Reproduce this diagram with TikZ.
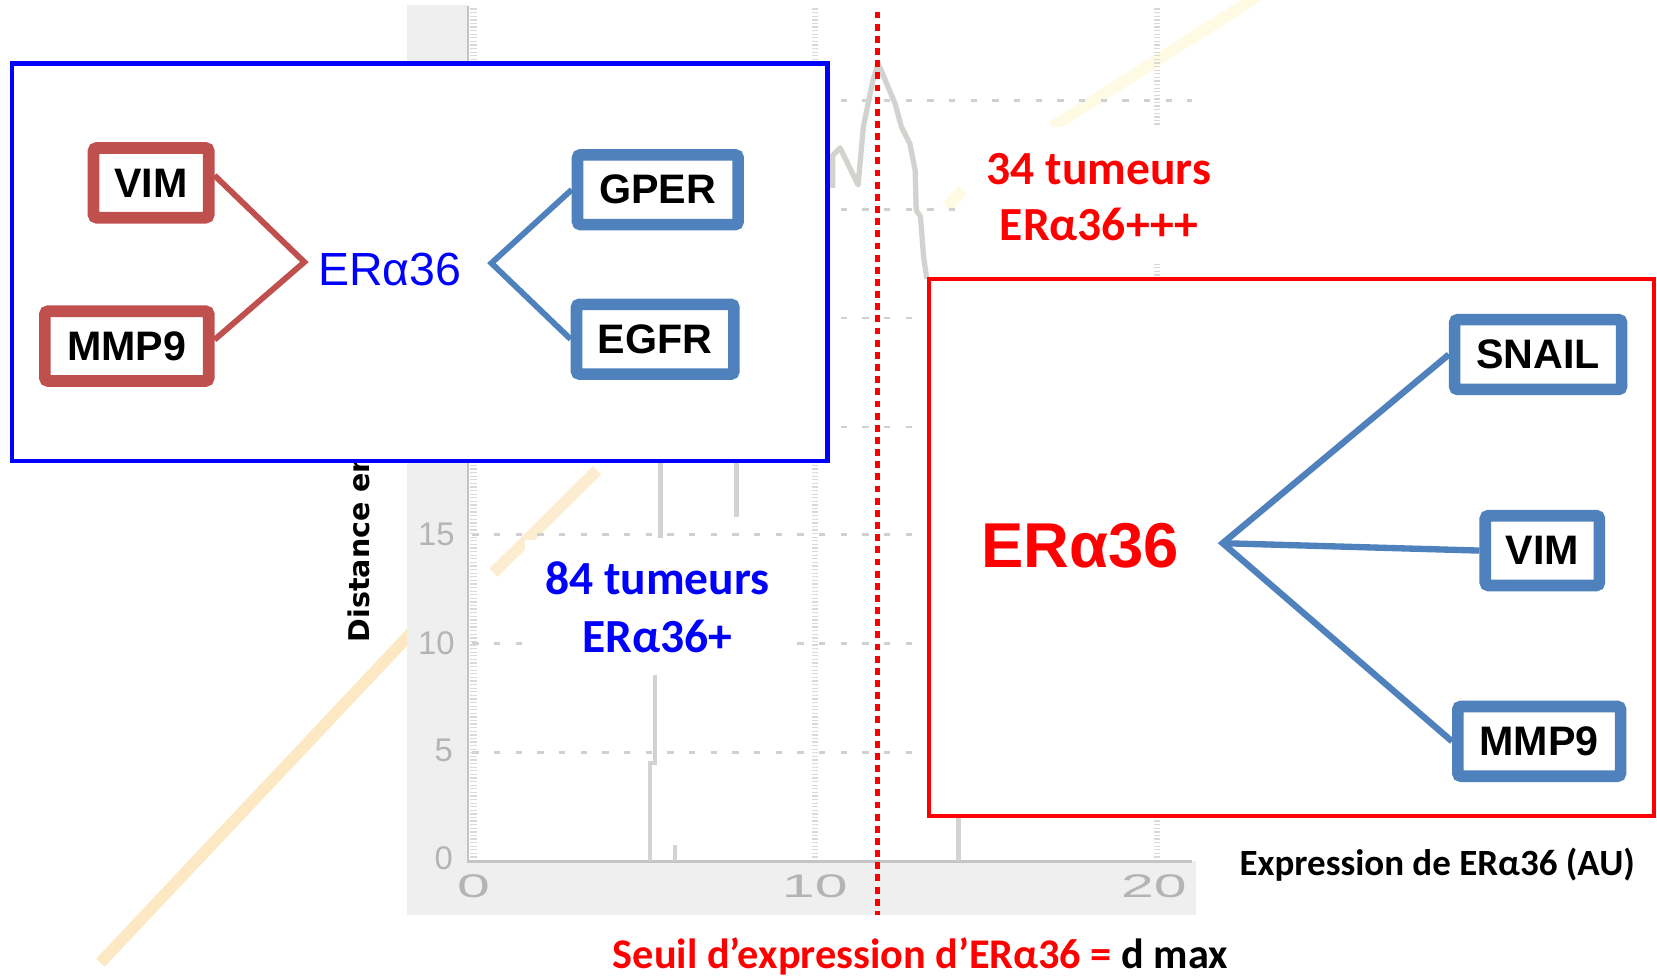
\documentclass[tikz,border=0pt]{standalone}
\usepackage{fontspec}
\setmainfont{Liberation Sans}
\newfontfamily\calfont{Carlito}
\newfontfamily\dejafont{DejaVu Sans}
\usepackage{graphicx}
\usetikzlibrary{calc}
\definecolor{boxred}{HTML}{C0504D}
\definecolor{boxblue}{HTML}{4F81BD}
\definecolor{pureblue}{HTML}{0000FF}
\definecolor{purered}{HTML}{FF0000}
\definecolor{panelgray}{HTML}{EFEFEF}
\definecolor{gridgray}{HTML}{D0D0D0}
\definecolor{axisgray}{HTML}{C4C4C4}
\definecolor{lblgray}{HTML}{B4B4B4}
\definecolor{bandorange}{HTML}{FDE8C4}
\definecolor{bandcream}{HTML}{FFFAE4}
\definecolor{dendgray}{HTML}{D2D2CE}
\begin{document}
\begin{tikzpicture}[x=1pt,y=-1pt,
  gene/.style={draw, line width=11pt, rounded corners=3pt, fill=white, inner sep=0pt,
    minimum height=66pt, font=\bfseries\fontsize{39}{44}\selectfont, text=black},
  redgene/.style={gene, draw=boxred},
  bluegene/.style={gene, draw=boxblue},
  redlink/.style={draw=boxred, line width=5.5pt},
  bluelink/.style={draw=boxblue, line width=5.5pt},
  calib/.style={font=\calfont\bfseries\fontsize{45}{54}\selectfont, inner sep=0pt, anchor=base},
  hgridline/.style={draw=gridgray, line width=2.5pt, dash pattern=on 6pt off 14.5pt},
  vgridline/.style={draw=gridgray!80, line width=6pt, dash pattern=on 1.2pt off 2.2pt},
  dendline/.style={draw=dendgray, line width=4pt},
  ticklbl/.style={text=lblgray, font=\fontsize{31}{31}\selectfont, inner sep=0pt},
  frame/.style={line width=4pt, fill=white, inner sep=0pt},
  band/.style={line width=11pt},
  ]
\useasboundingbox (0,0) rectangle (1568,924);
\fill[white] (0,0) rectangle (1568,924);

% faint orange curve of the background chart (visible fragments only)
\draw[band, draw=bandorange] (95,911) -- (390,598);
\draw[band, draw=bandorange!80] (467,542) -- (565,445);
\draw[band, draw=bandcream] (896,196) -- (911,180);
\draw[band, draw=bandcream] (996,120) .. controls (1090,60) .. (1194,-6);

% chart panel
\fill[panelgray] (385,5) rectangle (443,866);
\fill[panelgray] (385,815) rectangle (1132,866);
\foreach \yy in {95,198,301,404,506,609,712}
  \draw[hgridline] (447,\yy) -- (1128,\yy);
\foreach \xx in {448,771,1095}
  \draw[vgridline] (\xx,8) -- (\xx,815);
\draw[draw=axisgray, line width=2.5pt] (443,6) -- (443,815) -- (1128,815);

\node[ticklbl] (xt0) at (448,839) {\scalebox{1.8}[1]{0}};
\node[ticklbl] (xt10) at (771,839) {\scalebox{1.8}[1]{10}};
\node[ticklbl] (xt20) at (1092,839) {\scalebox{1.8}[1]{20}};
\node[ticklbl] (yt0) at (420,812) {0};
\node[ticklbl] (yt5) at (420,710) {5};
\node[ticklbl] (yt10) at (413,609) {10};
\node[ticklbl] (yt15) at (413,506) {15};

% dendrogram fragments
\draw[dendline] (625,436) -- (625,509);
\draw[dendline, line width=5pt] (697,436) -- (697,489);
\draw[dendline] (620,639) -- (620,722) -- (615,722) -- (615,815);
\draw[dendline] (639,800) -- (639,815);
\draw[dendline] (907,772) -- (907,815);
\draw[dendline, line width=5pt, line join=round] (788,178) -- (788,147) -- (795,140) -- (812,175)
  -- (817,120) -- (826,76) -- (831,60) -- (839,79) -- (847,98) -- (853,120) -- (861,136)
  -- (866,161) -- (867,199) -- (871,205) -- (874,243) -- (877,264);

% white backgrounds of the count labels
\fill[white] (497,511) rectangle (750,637);
\fill[white] (913,120) rectangle (1175,250);

% threshold line
\coordinate (dtop) at (830,11);
\coordinate (dbot) at (830,866);
\draw[draw=purered, line width=4.5pt, dash pattern=on 6.5pt off 5pt] (dtop) -- (dbot);

% y axis label (partly hidden by the blue frame)
\node[rotate=90, anchor=base west, font=\dejafont\bfseries\fontsize{27}{27}\selectfont, inner sep=0pt]
  (ylabel) at (350,608) {Distance en};

% frames
\node[frame, draw=pureblue, minimum width=772pt, minimum height=376pt] (leftframe) at (397,248) {};
\node[frame, draw=purered, minimum width=686pt, minimum height=508pt] (rightframe) at (1222,518) {};

% left group
\node[redgene, minimum width=109pt] (vimL) at (143,173) {VIM};
\node[redgene, minimum width=155pt] (mmpL) at (120,327.5) {MMP9};
\node[bluegene, minimum width=152pt] (gper) at (622.5,179.5) {GPER};
\node[bluegene, minimum width=149pt] (egfr) at (620,321) {EGFR};
\node[font=\fontsize{44}{44}\selectfont, text=pureblue, anchor=base, inner sep=0pt] (erL) at (369,270) {ERα36};
\coordinate (vL) at (288,248);
\coordinate (vB) at (465,249);
\draw[redlink] ($(vimL.east)+(0,-7)$) -- (vL) -- ($(mmpL.east)+(0,-6)$);
\draw[bluelink] (gper.west) -- (vB) -- (egfr.west);

% right group
\node[bluegene, minimum width=158pt] (snail) at (1455.5,335.5) {SNAIL};
\node[bluegene, minimum width=108pt] (vimR) at (1459.5,521) {VIM};
\node[bluegene, minimum width=154pt] (mmpR) at (1456.5,701.5) {MMP9};
\node[font=\bfseries\fontsize{60}{60}\selectfont, text=purered, anchor=base, inner sep=0pt] (erR) at (1022,537) {ERα36};
\coordinate (vR) at (1157,514);
\draw[bluelink, line width=6pt] (snail.west) -- (vR) -- (mmpR.west);
\draw[bluelink, line width=6pt] (vR) -- (vimR.west);

% counts
\node[calib, text=pureblue] (n84a) at (622,563) {84 tumeurs};
\node[calib, text=pureblue] (n84b) at (622,617) {ERα36+};
\node[calib, text=purered] (n34a) at (1040,175) {34 tumeurs};
\node[calib, text=purered] (n34b) at (1040,228) {ERα36+++};

% axis captions
\node[calib, font=\calfont\bfseries\fontsize{35}{35}\selectfont] (xlabel) at (1360,828) {Expression de ERα36 (AU)};
\node[calib, font=\calfont\bfseries\fontsize{40}{40}\selectfont, text=purered] (seuil) at (871,916)
  {Seuil d’expression d’ERα36 = \textcolor{black}{d max}};
\end{tikzpicture}
\end{document}
